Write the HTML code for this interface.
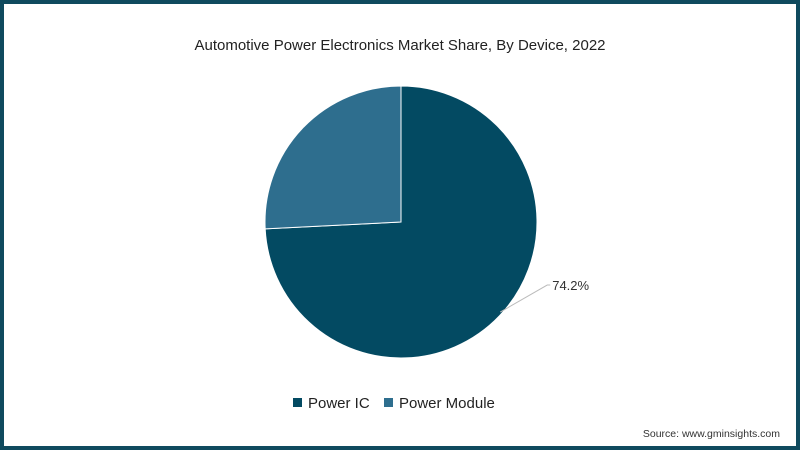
<!DOCTYPE html>
<html><head><meta charset="utf-8"><style>
body{margin:0;width:800px;height:450px;overflow:hidden;background:#fff;font-family:"Liberation Sans",sans-serif}
#frame{position:absolute;left:0;top:0;width:792px;height:442px;border:4px solid #0f4a5e;}
</style></head><body>
<div id="frame"></div>
<svg width="800" height="450" style="position:absolute;left:0;top:0">
<text x="400" y="50" text-anchor="middle" font-size="15" fill="#222">Automotive Power Electronics Market Share, By Device, 2022</text>
<g id="pie"></g>
<g>
<rect x="293" y="398" width="9" height="9" fill="#034a62"/>
<text x="308" y="408" font-size="15" fill="#222">Power IC</text>
<rect x="384" y="398" width="9" height="9" fill="#2e6e8e"/>
<text x="399" y="408" font-size="15" fill="#222">Power Module</text>
</g>
<text x="780" y="437" text-anchor="end" font-size="10.5" fill="#333">Source: www.gminsights.com</text>
</svg>
<script>
const categories=["Power IC","Power Module"];
const values=[74.2,25.8];
const labels=["74.2%",""];
const colors=["#034a62","#2e6e8e"];
const cx=401,cy=222,r=136;
const g=document.getElementById('pie');
const ns="http://www.w3.org/2000/svg";
const total=values.reduce((a,b)=>a+b,0);
let a0=0;
values.forEach((v,i)=>{
  const a1=a0+v/total*2*Math.PI;
  const p=(a)=>[cx+r*Math.sin(a),cy-r*Math.cos(a)];
  const [x0,y0]=p(a0),[x1,y1]=p(a1);
  const path=document.createElementNS(ns,'path');
  path.setAttribute('d',`M${cx},${cy}L${x0},${y0}A${r},${r} 0 ${a1-a0>Math.PI?1:0} 1 ${x1},${y1}Z`);
  path.setAttribute('fill',colors[i]);
  path.setAttribute('stroke','#fff');
  path.setAttribute('stroke-width','1');
  
  
  g.appendChild(path);
  if(labels[i]){
    const ang=a0+(a1-a0)*0.495;
    const lx=cx+(r-2)*Math.sin(ang),ly=cy-(r-2)*Math.cos(ang);
    const line=document.createElementNS(ns,'polyline');
    line.setAttribute('points',`${lx},${ly} ${lx+47},${ly-27} ${lx+50},${ly-27}`);
    line.setAttribute('fill','none');line.setAttribute('stroke','#bbb');
    
    
    g.appendChild(line);
    const t=document.createElementNS(ns,'text');
    t.setAttribute('x',lx+52);t.setAttribute('y',ly-22);
    t.setAttribute('font-size','13');t.setAttribute('fill','#333');
    t.textContent=labels[i];
    
    
    g.appendChild(t);
  }
  a0=a1;
});
</script>
</body></html>
